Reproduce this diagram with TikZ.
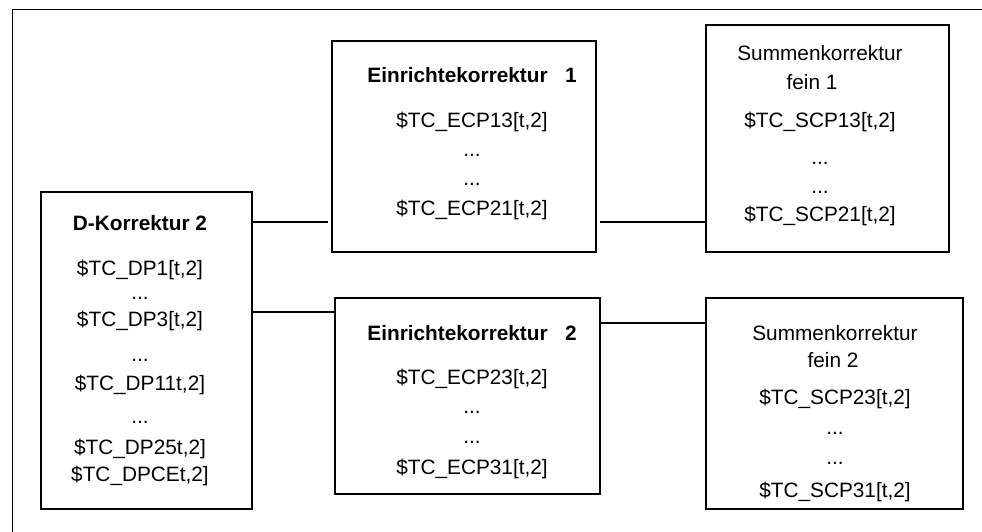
\documentclass[tikz,border=0pt]{standalone}
\usepackage{fontspec}
\setmainfont{Liberation Sans}
\begin{document}
\begin{tikzpicture}[x=1pt,y=-1pt,
  box/.style={draw, line width=2.6pt, inner sep=0pt, outer sep=0pt},
  conn/.style={line width=2pt},
  frameline/.style={line width=1pt},
  txt/.style={anchor=base, inner sep=0pt, font=\fontsize{20.8}{25}\selectfont},
  ttl/.style={txt, font=\fontsize{20.8}{25}\selectfont\bfseries}]
\useasboundingbox (0,0) rectangle (982,532);

% outer frame (top and left edges only)
\coordinate (fa) at (982,10);
\coordinate (fc) at (12,10);
\coordinate (fb) at (12,532);
\draw[frameline] (fa) -- (fc) -- (fb);

% boxes
\node[box, minimum width=211pt, minimum height=317pt] (dk) at (146.5,350.5) {};
\node[box, minimum width=264pt, minimum height=211pt] (e1) at (464,146.5) {};
\node[box, minimum width=265pt, minimum height=196pt] (e2) at (467.5,396) {};
\node[box, minimum width=243pt, minimum height=227pt] (s1) at (827.5,138.5) {};
\node[box, minimum width=257pt, minimum height=211pt] (s2) at (834.5,403.5) {};

% connectors
\coordinate (y1) at (0,222);
\coordinate (y2) at (0,312);
\coordinate (y3) at (0,323);
\draw[conn, shorten >=4pt] (y1 -| dk.east) -- (y1 -| e1.west);
\draw[conn] (y2 -| dk.east) -- (y2 -| e2.west);
\draw[conn, shorten <=4pt] (y1 -| e1.east) -- (y1 -| s1.west);
\draw[conn] (y3 -| e2.east) -- (y3 -| s2.west);

% D-Korrektur 2
\node[ttl] (d0) at (140,230) {D-Korrektur 2};
\node[txt] (d1) at (140,275) {\$TC\_DP1[t,2]};
\node[txt] (d2) at (140,299) {...};
\node[txt] (d3) at (140,326) {\$TC\_DP3[t,2]};
\node[txt] (d4) at (140,361) {...};
\node[txt] (d5) at (140,390) {\$TC\_DP11t,2]};
\node[txt] (d6) at (140,423) {...};
\node[txt] (d7) at (140,454.5) {\$TC\_DP25t,2]};
\node[txt] (d8) at (140,481.5) {\$TC\_DPCEt,2]};

% Einrichtekorrektur 1
\node[ttl] (a0) at (472,82.5) {Einrichtekorrektur\ \ \ 1};
\node[txt] (a1) at (472,127.5) {\$TC\_ECP13[t,2]};
\node[txt] (a2) at (472,157) {...};
\node[txt] (a3) at (472,185) {...};
\node[txt] (a4) at (472,215.5) {\$TC\_ECP21[t,2]};

% Einrichtekorrektur 2
\node[ttl] (b0) at (472,340.5) {Einrichtekorrektur\ \ \ 2};
\node[txt] (b1) at (472,384.5) {\$TC\_ECP23[t,2]};
\node[txt] (b2) at (472,413) {...};
\node[txt] (b3) at (472,443) {...};
\node[txt] (b4) at (472,474) {\$TC\_ECP31[t,2]};

% Summenkorrektur fein 1
\node[txt] (c0) at (820,60.5) {Summenkorrektur};
\node[txt] (c1) at (812,90) {fein 1};
\node[txt] (c2) at (820,127.5) {\$TC\_SCP13[t,2]};
\node[txt] (c3) at (820,164.5) {...};
\node[txt] (c4) at (820,193) {...};
\node[txt] (c5) at (820,221) {\$TC\_SCP21[t,2]};

% Summenkorrektur fein 2
\node[txt] (g0) at (835,340.5) {Summenkorrektur};
\node[txt] (g1) at (833,367.5) {fein 2};
\node[txt] (g2) at (835,404) {\$TC\_SCP23[t,2]};
\node[txt] (g3) at (835,434.5) {...};
\node[txt] (g4) at (835,464.5) {...};
\node[txt] (g5) at (835,497.5) {\$TC\_SCP31[t,2]};
\end{tikzpicture}
\end{document}
